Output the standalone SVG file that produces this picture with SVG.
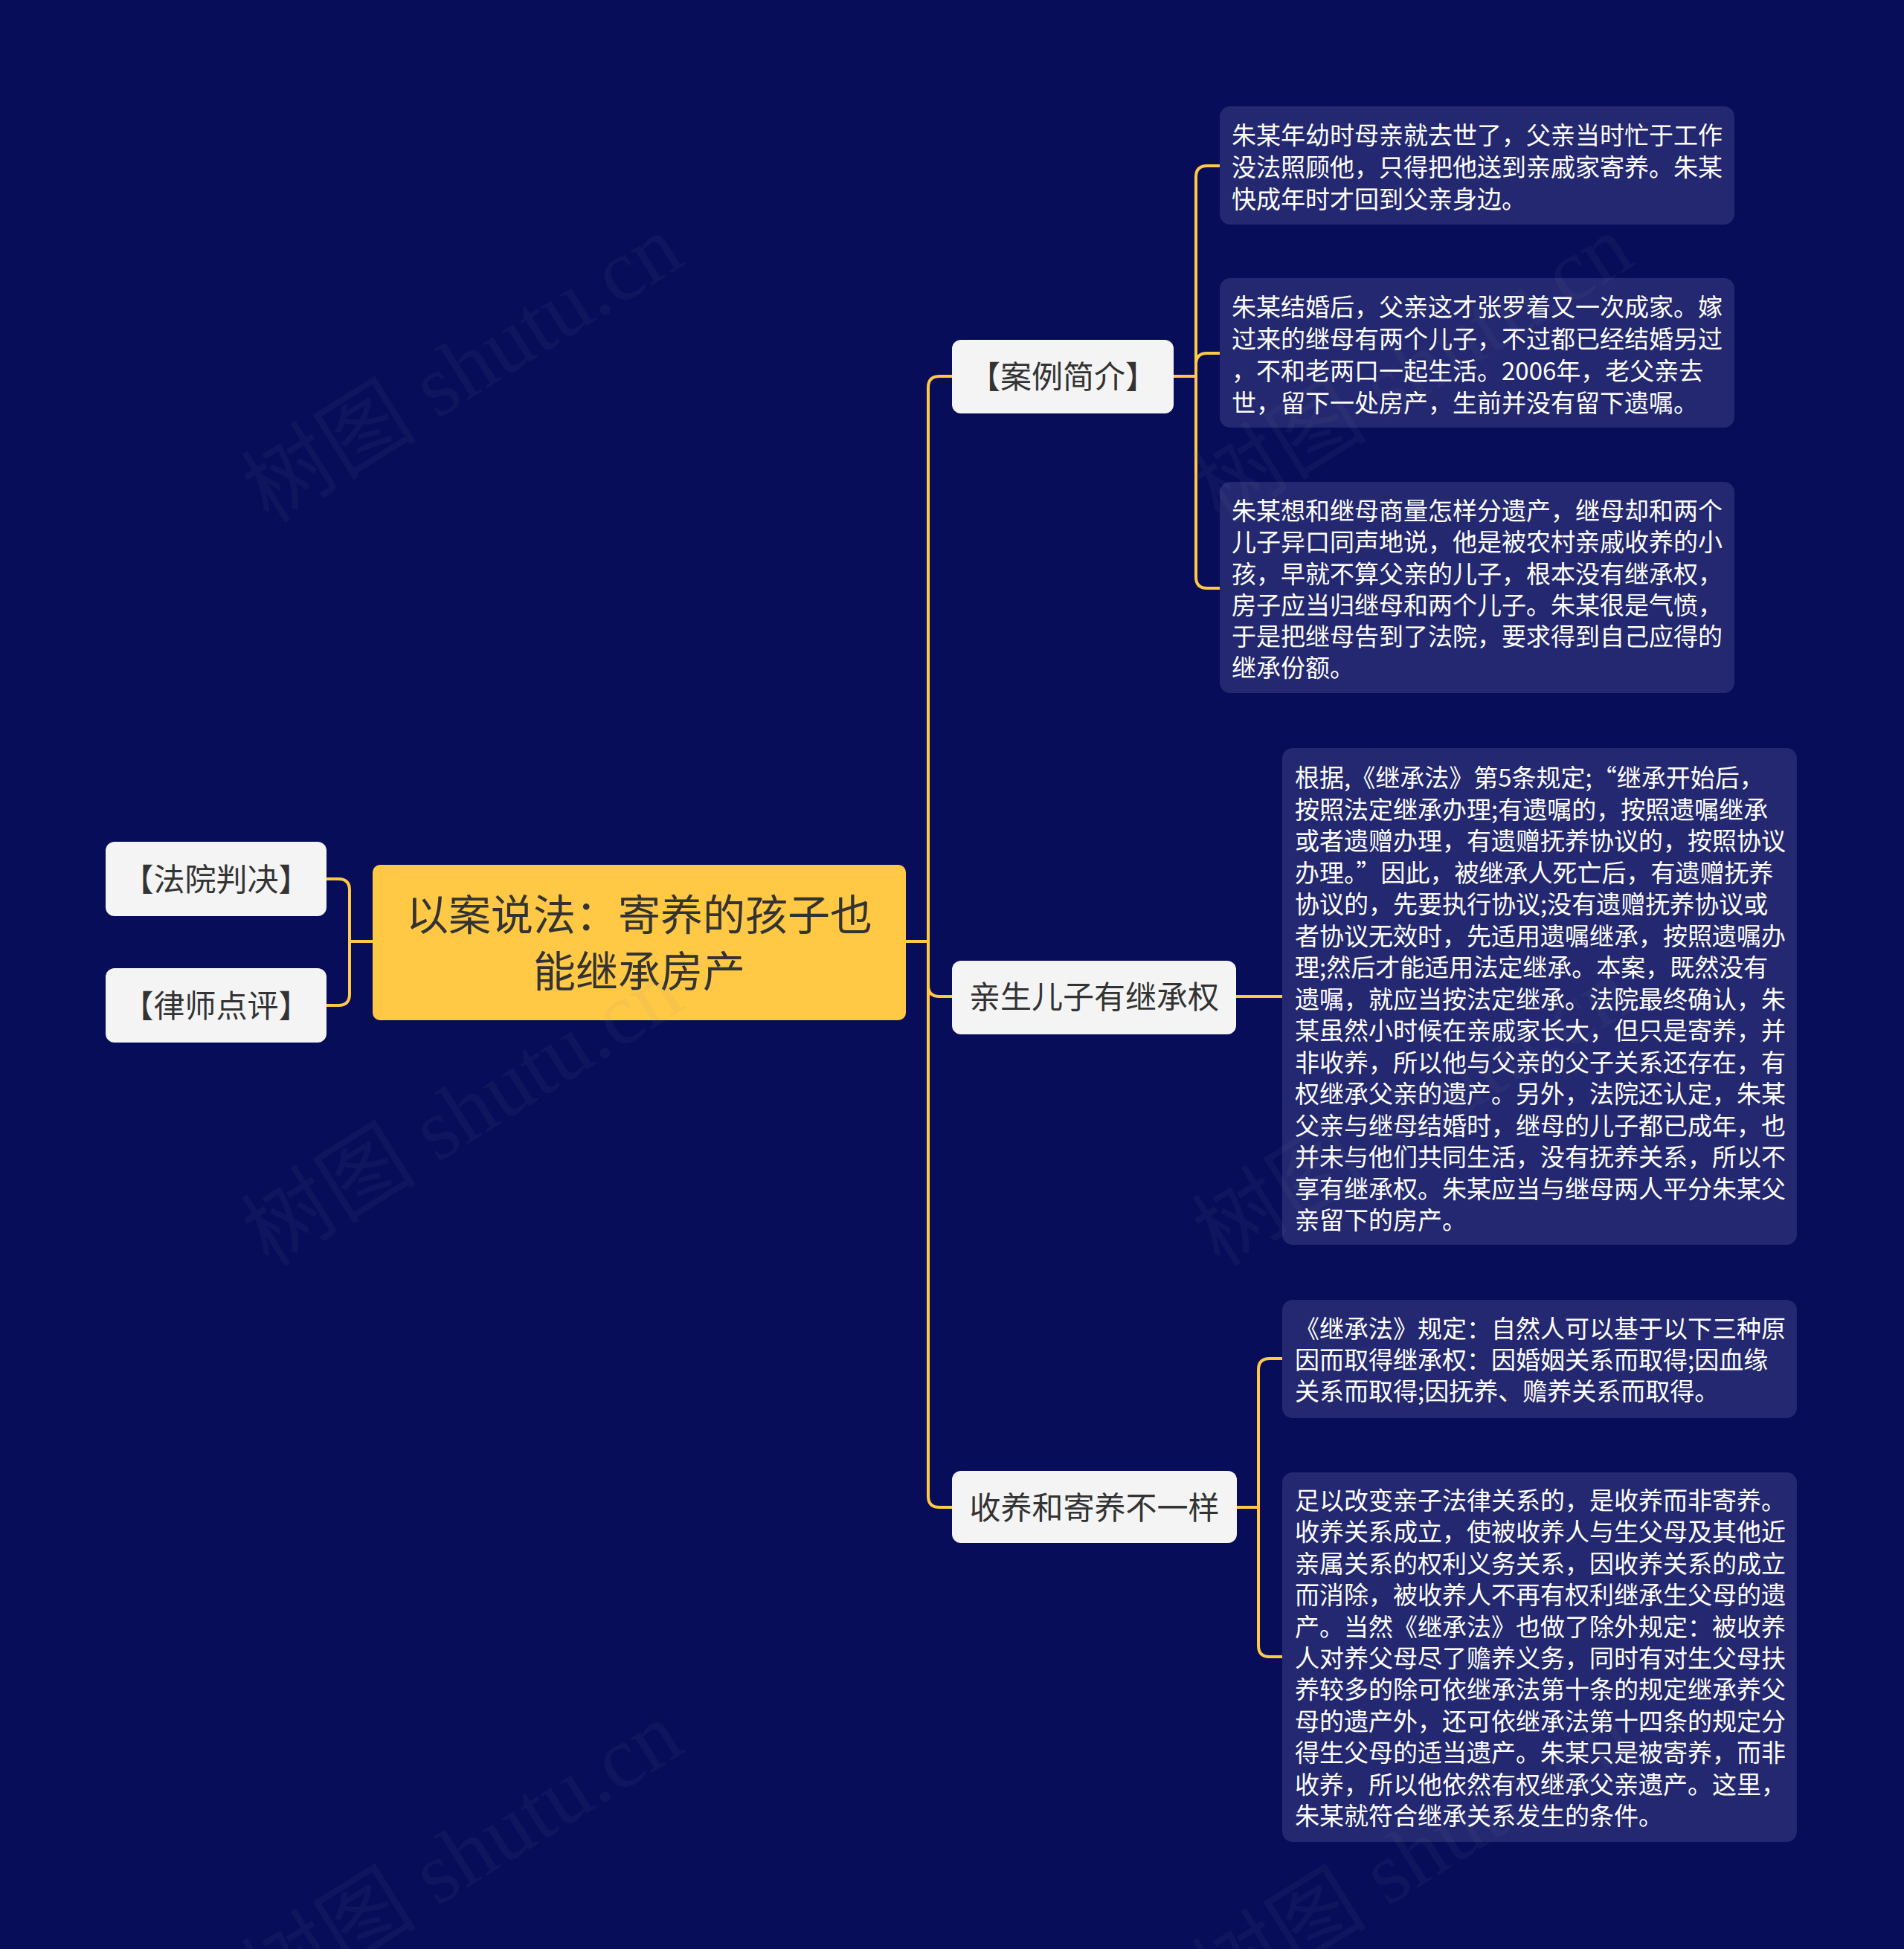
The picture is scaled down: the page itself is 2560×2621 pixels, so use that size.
<svg xmlns="http://www.w3.org/2000/svg" width="2560" height="2621" viewBox="0 0 2560 2621">
<style>
.bg{fill:#070D59}
.conn{fill:none;stroke:#FFC845;stroke-width:4;stroke-linecap:round}
.node rect{fill:#F4F4F4}
.node text{font-family:"Noto Sans CJK SC","Noto Sans",sans-serif;font-size:42px;fill:#333333;text-anchor:middle}
.root rect{fill:#FFC845}
.root text{font-family:"Noto Sans CJK SC","Noto Sans",sans-serif;font-size:57px;fill:#333333;text-anchor:middle}
.leaf rect{fill:#232870}
.leaf text{font-family:"Noto Sans CJK SC","Noto Sans",sans-serif;font-size:33px;fill:#FFFFFF}
.wm{font-family:"Liberation Serif","Noto Sans CJK SC",serif;font-size:118px;fill:#8A8A9A;opacity:0.07}
</style>
<rect class="bg" x="0" y="0" width="2560" height="2621"/>

<g id="connectors">
<path class="conn" d="M501 1266 H470 M470 1266 V1197 Q470 1182 455 1182 H439 M470 1266 V1337 Q470 1352 455 1352 H439"/>
<path class="conn" d="M1218 1266 H1248 M1248 1266 V521 Q1248 506 1263 506 H1280 M1248 1266 V1325 Q1248 1340 1263 1340 H1280 M1248 1266 V2012 Q1248 2027 1263 2027 H1280"/>
<path class="conn" d="M1578 506 H1608 M1608 506 V238 Q1608 223 1623 223 H1640 M1608 506 V490 Q1608 475 1623 475 H1640 M1608 506 V776 Q1608 791 1623 791 H1640"/>
<path class="conn" d="M1662 1340 H1724"/>
<path class="conn" d="M1663 2027 H1692 M1692 2027 V1842 Q1692 1827 1707 1827 H1724 M1692 2027 V2213 Q1692 2228 1707 2228 H1724"/>
</g>

<g id="root" class="root">
<rect x="501" y="1163" width="717" height="209" rx="10"/>
<text x="859.5" y="1251">以案说法：寄养的孩子也</text>
<text x="859.5" y="1327">能继承房产</text>
</g>

<g id="n-fayuan" class="node">
<rect x="142" y="1132" width="297" height="100" rx="12"/>
<text x="290.5" y="1198">【法院判决】</text>
</g>
<g id="n-lvshi" class="node">
<rect x="142" y="1302" width="297" height="100" rx="12"/>
<text x="290.5" y="1368">【律师点评】</text>
</g>

<g id="n-anli" class="node">
<rect x="1280" y="457" width="298" height="99" rx="12"/>
<text x="1429" y="522">【案例简介】</text>
</g>
<g id="n-qinsheng" class="node">
<rect x="1280" y="1292" width="382" height="99" rx="12"/>
<text x="1471" y="1356">亲生儿子有继承权</text>
</g>
<g id="n-shouyang" class="node">
<rect x="1280" y="1978" width="383" height="97" rx="12"/>
<text x="1471.5" y="2043">收养和寄养不一样</text>
</g>

<g id="leaf-anli-1" class="leaf">
<rect x="1640" y="143" width="692" height="159" rx="14"/>
<text x="1656" y="194">朱某年幼时母亲就去世了，父亲当时忙于工作</text>
<text x="1656" y="237">没法照顾他，只得把他送到亲戚家寄养。朱某</text>
<text x="1656" y="280">快成年时才回到父亲身边。</text>
</g>
<g id="leaf-anli-2" class="leaf">
<rect x="1640" y="374" width="692" height="201" rx="14"/>
<text x="1656" y="425">朱某结婚后，父亲这才张罗着又一次成家。嫁</text>
<text x="1656" y="468">过来的继母有两个儿子，不过都已经结婚另过</text>
<text x="1656" y="511">，不和老两口一起生活。2006年，老父亲去</text>
<text x="1656" y="554">世，留下一处房产，生前并没有留下遗嘱。</text>
</g>
<g id="leaf-anli-3" class="leaf">
<rect x="1640" y="648" width="692" height="284" rx="14"/>
<text x="1656" y="699">朱某想和继母商量怎样分遗产，继母却和两个</text>
<text x="1656" y="741">儿子异口同声地说，他是被农村亲戚收养的小</text>
<text x="1656" y="784">孩，早就不算父亲的儿子，根本没有继承权，</text>
<text x="1656" y="826">房子应当归继母和两个儿子。朱某很是气愤，</text>
<text x="1656" y="868">于是把继母告到了法院，要求得到自己应得的</text>
<text x="1656" y="910">继承份额。</text>
</g>

<g id="leaf-qinsheng" class="leaf">
<rect x="1724" y="1006" width="692" height="668" rx="14"/>
<text x="1741" y="1058">根据,《继承法》第5条规定;“继承开始后，</text>
<text x="1741" y="1101">按照法定继承办理;有遗嘱的，按照遗嘱继承</text>
<text x="1741" y="1143">或者遗赠办理，有遗赠抚养协议的，按照协议</text>
<text x="1741" y="1186">办理。”因此，被继承人死亡后，有遗赠抚养</text>
<text x="1741" y="1228">协议的，先要执行协议;没有遗赠抚养协议或</text>
<text x="1741" y="1271">者协议无效时，先适用遗嘱继承，按照遗嘱办</text>
<text x="1741" y="1313">理;然后才能适用法定继承。本案，既然没有</text>
<text x="1741" y="1356">遗嘱，就应当按法定继承。法院最终确认，朱</text>
<text x="1741" y="1398">某虽然小时候在亲戚家长大，但只是寄养，并</text>
<text x="1741" y="1441">非收养，所以他与父亲的父子关系还存在，有</text>
<text x="1741" y="1483">权继承父亲的遗产。另外，法院还认定，朱某</text>
<text x="1741" y="1526">父亲与继母结婚时，继母的儿子都已成年，也</text>
<text x="1741" y="1568">并未与他们共同生活，没有抚养关系，所以不</text>
<text x="1741" y="1611">享有继承权。朱某应当与继母两人平分朱某父</text>
<text x="1741" y="1653">亲留下的房产。</text>
</g>

<g id="leaf-shouyang-1" class="leaf">
<rect x="1724" y="1748" width="692" height="159" rx="14"/>
<text x="1741" y="1799">《继承法》规定：自然人可以基于以下三种原</text>
<text x="1741" y="1841">因而取得继承权：因婚姻关系而取得;因血缘</text>
<text x="1741" y="1883">关系而取得;因抚养、赡养关系而取得。</text>
</g>
<g id="leaf-shouyang-2" class="leaf">
<rect x="1724" y="1980" width="692" height="497" rx="14"/>
<text x="1741" y="2030">足以改变亲子法律关系的，是收养而非寄养。</text>
<text x="1741" y="2072">收养关系成立，使被收养人与生父母及其他近</text>
<text x="1741" y="2115">亲属关系的权利义务关系，因收养关系的成立</text>
<text x="1741" y="2157">而消除，被收养人不再有权利继承生父母的遗</text>
<text x="1741" y="2200">产。当然《继承法》也做了除外规定：被收养</text>
<text x="1741" y="2242">人对养父母尽了赡养义务，同时有对生父母扶</text>
<text x="1741" y="2284">养较多的除可依继承法第十条的规定继承养父</text>
<text x="1741" y="2327">母的遗产外，还可依继承法第十四条的规定分</text>
<text x="1741" y="2369">得生父母的适当遗产。朱某只是被寄养，而非</text>
<text x="1741" y="2412">收养，所以他依然有权继承父亲遗产。这里，</text>
<text x="1741" y="2454">朱某就符合继承关系发生的条件。</text>
</g>

<g id="watermarks">
<text class="wm" transform="translate(362 705) rotate(-32)">树图 shutu.cn</text>
<text class="wm" transform="translate(362 1705) rotate(-32)">树图 shutu.cn</text>
<text class="wm" transform="translate(362 2705) rotate(-32)">树图 shutu.cn</text>
<text class="wm" transform="translate(1640 705) rotate(-32)">树图 shutu.cn</text>
<text class="wm" transform="translate(1640 1705) rotate(-32)">树图 shutu.cn</text>
<text class="wm" transform="translate(1640 2705) rotate(-32)">树图 shutu.cn</text>
</g>
</svg>
